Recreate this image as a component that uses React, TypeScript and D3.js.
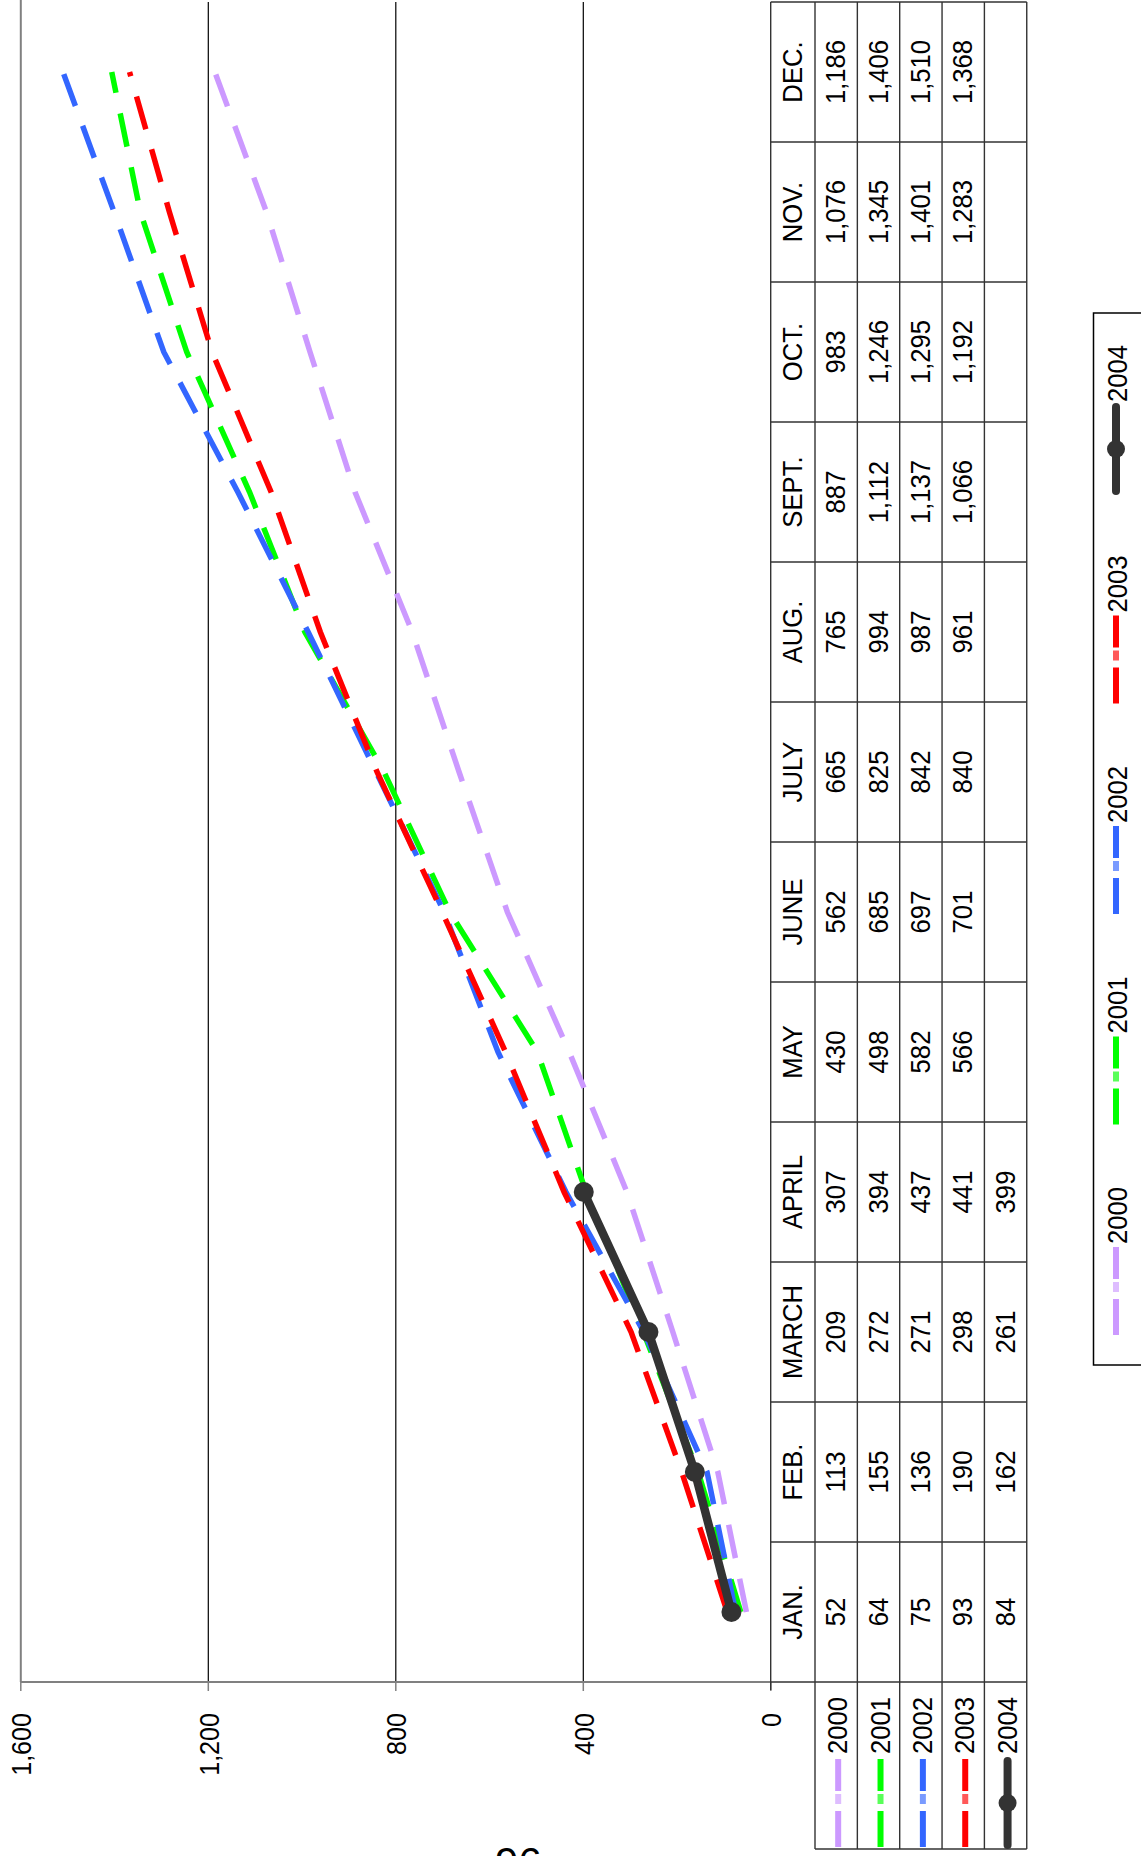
import React from 'react';
import * as d3 from 'd3';

const months = ['JAN.', 'FEB.', 'MARCH', 'APRIL', 'MAY', 'JUNE', 'JULY', 'AUG.', 'SEPT.', 'OCT.', 'NOV.', 'DEC.'];
const years = ['2000', '2001', '2002', '2003', '2004'];
const values2000 = [52, 113, 209, 307, 430, 562, 665, 765, 887, 983, 1076, 1186];
const values2001 = [64, 155, 272, 394, 498, 685, 825, 994, 1112, 1246, 1345, 1406];
const values2002 = [75, 136, 271, 437, 582, 697, 842, 987, 1137, 1295, 1401, 1510];
const values2003 = [93, 190, 298, 441, 566, 701, 840, 961, 1066, 1192, 1283, 1368];
const values2004 = [84, 162, 261, 399];
const colors = ['#CC99FF', '#00FF00', '#3366FF', '#FF0000', '#333333'];
const valueTicks = [0, 400, 800, 1200, 1600];
const allValues = [values2000, values2001, values2002, values2003, values2004];

const W = 1141;
const H = 1856;
const FONT = '"Liberation Sans", Arial, Helvetica, sans-serif';
const FS = 27;

const x = d3.scaleLinear().domain([0, 1600]).range([770.8, 20.8]);
const y = d3.scaleBand<string>().domain(months).range([1682, 2]).padding(0);
const bw = y.bandwidth();
const yc = (i: number) => (y(months[i]) as number) + bw / 2;
const fmt = d3.format(',');

const tableLeft = 770.7;
const headerRight = 815;
const rowW = 42.35;
const rowX = (r: number) => headerRight + rowW * r;
const tableRight = rowX(5);
const rowHeadBottom = 1849;

function RText({ x, y, anchor, children, size = FS, fill = '#000', sx = 0.95 }: any) {
  return (
    <text
      transform={`translate(${x},${y}) rotate(-90) scale(${sx},1)`}
      textAnchor={anchor}
      dominantBaseline="central"
      fontFamily={FONT}
      fontSize={size}
      fill={fill}
    >
      {children}
    </text>
  );
}

function LegendKey({ cx, top, idx }: { cx: number; top: number; idx: number }) {
  const c = colors[idx];
  if (idx === 4) {
    return (
      <g>
        <line x1={cx} x2={cx} y1={top + 2} y2={top + 86} stroke={c} strokeWidth={8} strokeLinecap="round" />
        <circle cx={cx} cy={top + 44} r={9} fill={c} />
      </g>
    );
  }
  const w = 6;
  return (
    <g>
      <rect x={cx - w / 2} y={top} width={w} height={32} fill={c} />
      <rect x={cx - w / 2} y={top + 35} width={w} height={10} fill={c} opacity={0.65} />
      <rect x={cx - w / 2} y={top + 52} width={w} height={36} fill={c} />
    </g>
  );
}

export default function App() {
  const line = d3
    .line<number>()
    .x((v) => x(v))
    .y((_, i) => yc(i));

  const legendKeyTops = [1247, 1036.5, 826, 615.5, 405];

  return (
    <svg
      width={W}
      height={H}
      viewBox={`0 0 ${W} ${H}`}
      style={{ position: 'absolute', left: 0, top: 0, background: '#fff' }}
    >
      <rect x={0} y={0} width={W} height={H} fill="#fff" />

      {valueTicks.filter((t) => t > 0 && t < 1600).map((t) => (
        <line key={t} x1={x(t)} x2={x(t)} y1={2} y2={1682} stroke="#000" strokeWidth={1.2} />
      ))}
      <line x1={x(1600)} x2={x(1600)} y1={0} y2={1682} stroke="#808080" strokeWidth={2} />
      <line x1={x(1600)} x2={tableLeft} y1={1682} y2={1682} stroke="#808080" strokeWidth={2} />
      {valueTicks.map((t) => (
        <line key={'tk' + t} x1={x(t)} x2={x(t)} y1={1682} y2={1691} stroke="#808080" strokeWidth={1.5} />
      ))}
      {valueTicks.map((t) => (
        <RText key={'tl' + t} x={x(t) + 1} y={1713} anchor="end" sx={0.93}>
          {fmt(t)}
        </RText>
      ))}

      <g stroke="#333" strokeWidth={1.4}>
        <line x1={tableLeft} x2={tableLeft} y1={2} y2={1690} />
        {d3.range(0, 6).map((r) => (
          <line key={'rv' + r} x1={rowX(r)} x2={rowX(r)} y1={2} y2={rowHeadBottom} />
        ))}
        {d3.range(0, 13).map((k) => (
          <line key={'ch' + k} x1={tableLeft} x2={tableRight} y1={1682 - bw * k} y2={1682 - bw * k} />
        ))}
        <line x1={headerRight} x2={tableRight} y1={rowHeadBottom} y2={rowHeadBottom} />
      </g>

      {months.map((m, i) => (
        <RText key={'m' + m} x={(tableLeft + headerRight) / 2} y={yc(i)} anchor="middle">
          {m}
        </RText>
      ))}
      {allValues.map((vals, r) =>
        vals.map((v, i) => (
          <RText key={'v' + r + '-' + i} x={rowX(r) + rowW / 2} y={yc(i)} anchor="middle">
            {fmt(v)}
          </RText>
        ))
      )}
      {years.map((yr, r) => (
        <g key={'rh' + yr}>
          <RText x={rowX(r) + rowW / 2 + 2} y={1697} anchor="end">
            {yr}
          </RText>
          <LegendKey cx={rowX(r) + rowW / 2 + 2} top={1759} idx={r} />
        </g>
      ))}

      {allValues.slice(0, 4).map((vals, s) => (
        <path
          key={'s' + s}
          d={line(vals) as string}
          fill="none"
          stroke={colors[s]}
          strokeWidth={5.5}
          strokeDasharray="34,21"
          strokeLinejoin="miter"
        />
      ))}
      <path
        d={line(values2004) as string}
        fill="none"
        stroke={colors[4]}
        strokeWidth={8.5}
        strokeLinejoin="round"
        strokeLinecap="round"
      />
      {values2004.map((v, i) => (
        <circle key={'c' + i} cx={x(v)} cy={yc(i)} r={10} fill={colors[4]} />
      ))}

      <rect x={1093.5} y={313} width={80} height={1052} fill="none" stroke="#000" strokeWidth={1.5} />
      {years.map((yr, r) => (
        <g key={'lg' + yr}>
          <LegendKey cx={1116} top={legendKeyTops[r]} idx={r} />
          <RText x={1117.5} y={legendKeyTops[r] - 3} anchor="start">
            {yr}
          </RText>
        </g>
      ))}

      <text x={495} y={1877} fontFamily={FONT} fontSize={42} fill="#000">
        96
      </text>
    </svg>
  );
}
